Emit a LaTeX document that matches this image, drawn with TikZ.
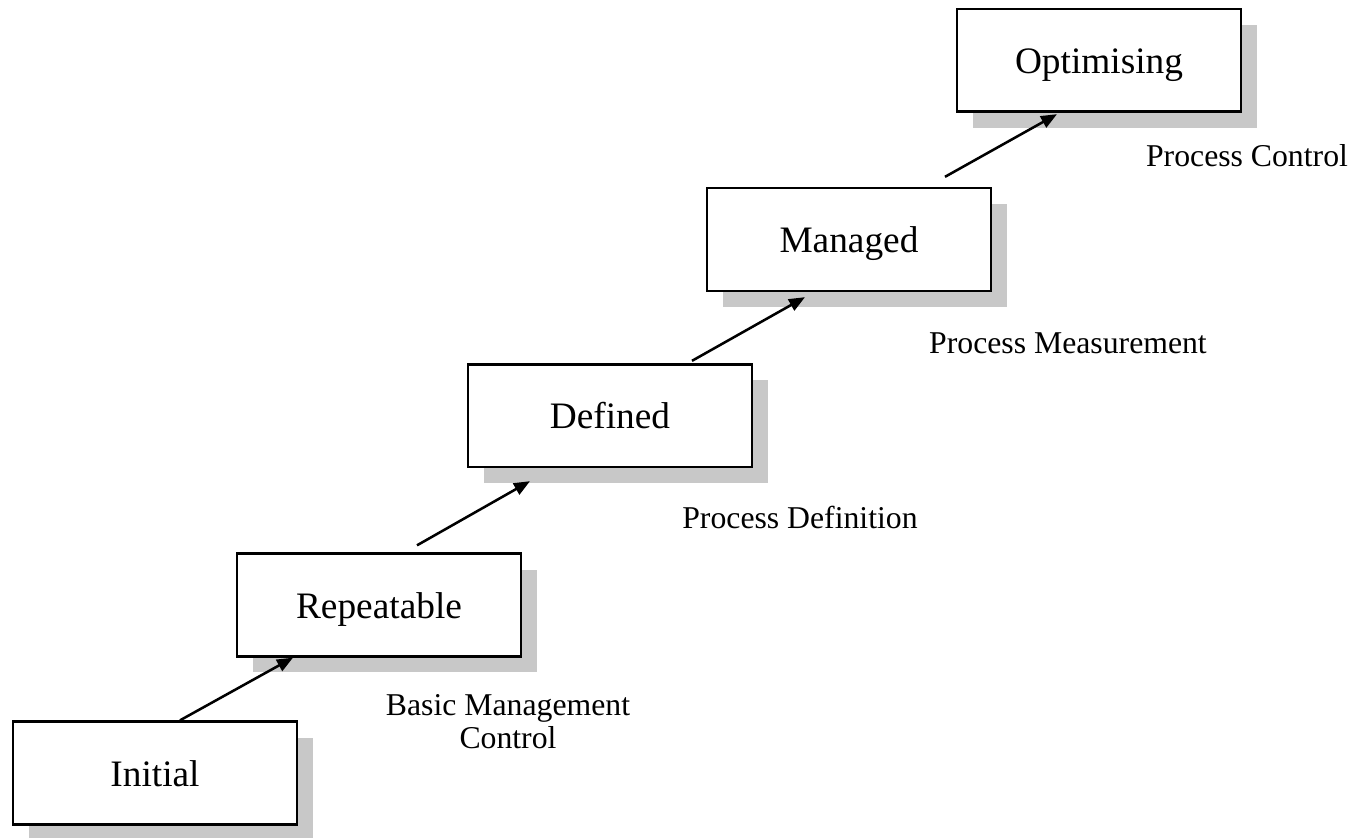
\documentclass[tikz,border=0pt]{standalone}
\usepackage{fontspec}
\setmainfont{Liberation Serif}
\usepackage{xcolor}
\usetikzlibrary{arrows.meta,shadows,calc}
\definecolor{shadegray}{RGB}{200,200,200}

\begin{document}
\begin{tikzpicture}[x=0.75pt,y=-0.75pt,
    stage/.style={draw, line width=2pt, fill=white, minimum width=213pt, minimum height=77pt, inner sep=0pt,
        text height=19.5pt, text depth=0pt, font=\fontsize{28}{30}\selectfont,
        general shadow={fill=shadegray, shadow xshift=12pt, shadow yshift=-12pt}},
    note/.style={font=\fontsize{23.8}{24.75}\selectfont, align=center, inner sep=0pt},
    flow/.style={line width=1.9pt, -{Triangle[length=12pt,width=9.5pt]}}]
    \useasboundingbox (0,0) rectangle (1353,838);
    \node [stage] (init) at (155,773) {Initial};
    \node [stage] (rep) at (379,605) {Repeatable};
    \node [stage] (def) at (610,415.5) {Defined};
    \node [stage] (man) at (849,239.5) {Managed};
    \node [stage] (opt) at (1099,60.5) {Optimising};
    \draw [flow] ($(init.north)+(25,0)$) -- ($(rep.south)+(-86,0)$);
    \draw [flow] ($(rep.north)+(38,-7)$) -- ($(def.south)+(-80,13)$);
    \draw [flow] ($(def.north)+(82,-2)$) -- ($(man.south)+(-44,5)$);
    \draw [flow] ($(man.north)+(96,-10)$) -- ($(opt.south)+(-42,1)$);
    \node [note, anchor=base] (basic) at (508,748) {Basic Management\\Control};
    \node [note, anchor=base] (defn) at (800,528) {Process Definition};
    \node [note, anchor=base] (meas) at (1068,353) {Process Measurement};
    \node [note, anchor=base] (ctrl) at (1247,167) {Process Control};
\end{tikzpicture}
\end{document}
